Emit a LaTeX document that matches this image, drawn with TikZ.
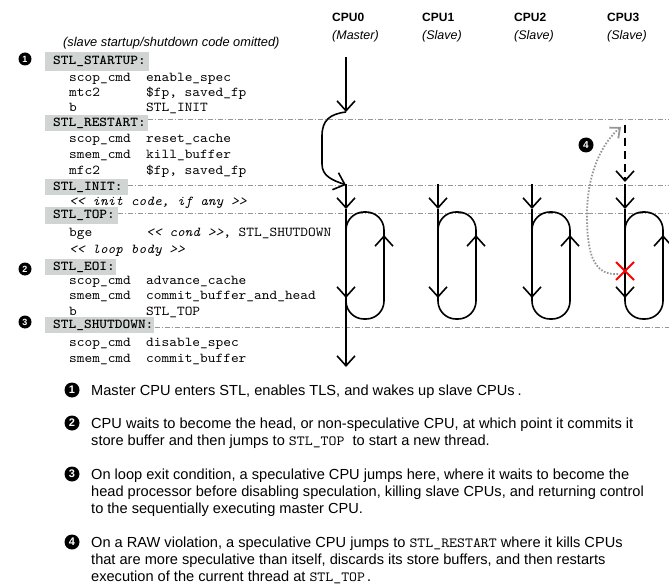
\documentclass[tikz,border=0pt]{standalone}
\usepackage{fontspec}
\setmainfont{Liberation Sans}
\newfontfamily\codefont{lmmono10}[Extension=.otf, UprightFont=*-regular, ItalicFont=*-italic, BoldFont=lmmonolt10-bold, BoldItalicFont=lmmonolt10-boldoblique, FakeStretch=1.08]
\usetikzlibrary{arrows.meta}
\definecolor{boxgray}{RGB}{208,213,211}
\definecolor{sepgray}{RGB}{150,150,150}
\definecolor{dotgray}{RGB}{150,150,150}
\newcommand\cmdtxt[1]{{\codefont\fontsize{14}{15}\selectfont #1}}
\begin{document}
\begin{tikzpicture}[x=1pt,y=-1pt,
  cpuh/.style={anchor=base west, inner sep=0, font=\bfseries\fontsize{12}{14}\selectfont},
  cpur/.style={anchor=base west, inner sep=0, font=\itshape\fontsize{12.5}{14}\selectfont},
  note/.style={anchor=base west, inner sep=0, font=\itshape\fontsize{12.8}{14}\selectfont},
  lbl/.style={anchor=west, fill=boxgray, inner sep=0, minimum height=16pt, text height=8.5pt, text depth=2pt, font=\codefont\bfseries\fontsize{13.6}{15}\selectfont},
  code/.style={anchor=mid west, inner sep=0, font=\codefont\fontsize{13.6}{15}\selectfont},
  body/.style={anchor=base west, inner sep=0, font=\fontsize{14.6}{17}\selectfont},
  numc/.style={circle, fill=black, text=white, inner sep=0, minimum size=13pt, font=\bfseries\fontsize{9}{9}\selectfont},
  bnum/.style={numc, minimum size=15pt, font=\bfseries\fontsize{11}{11}\selectfont},
  sepline/.style={draw=sepgray, line width=0.8pt, dash pattern=on 5pt off 2pt on 1pt off 2pt},
  flow/.style={line width=1.6pt, line cap=butt},
  tip/.style={-{Straight Barb[length=10pt,width=18pt]}},
  graytip/.style={-{Straight Barb[length=8pt,width=14pt]}},
]
\useasboundingbox (0,0) rectangle (669,588);

% CPU headers
\node[cpuh] (h0) at (332,21.3) {CPU0};
\node[cpur] (r0) at (332,39.3) {(Master)};
\node[cpuh] (h1) at (422,21.3) {CPU1};
\node[cpur] (r1) at (422,39.3) {(Slave)};
\node[cpuh] (h2) at (514,21.3) {CPU2};
\node[cpur] (r2) at (514,39.3) {(Slave)};
\node[cpuh] (h3) at (607,21.3) {CPU3};
\node[cpur] (r3) at (607,39.3) {(Slave)};

\node[note] (omit) at (63,46.3) {(slave startup/shutdown code omitted)};

% labels
\node[lbl, minimum height=19pt] (Lstart) at (45,61.5) {\kern8pt STL\_STARTUP:\kern3pt};
\node[lbl] (Lrest) at (45,123.5) {\kern8pt STL\_RESTART:\kern2pt};
\node[lbl] (Linit) at (45,187.5) {\kern8pt STL\_INIT:\kern5pt};
\node[lbl] (Ltop) at (45,215.5) {\kern8pt STL\_TOP:\kern3pt};
\node[lbl] (Leoi) at (45,267) {\kern8pt STL\_EOI:\kern1pt};
\node[lbl] (Lshut) at (45,325) {\kern8pt STL\_SHUTDOWN:\kern1pt};

% separator lines
\coordinate (sR1) at (669,119);
\coordinate (sR2) at (669,185);
\coordinate (sR3) at (669,213);
\coordinate (sR4) at (669,327);
\draw[sepline] (Lrest.east |- sR1) -- (sR1);
\draw[sepline] (Linit.east |- sR2) -- (sR2);
\draw[sepline] (Ltop.east |- sR3) -- (sR3);
\draw[sepline] (Lshut.east |- sR4) -- (sR4);

% code
\node[code] (c1a) at (69,79) {scop\_cmd};  \node[code] (c1b) at (146,79) {enable\_spec};
\node[code] (c2a) at (69,94) {mtc2};       \node[code] (c2b) at (146,94) {\$fp, saved\_fp};
\node[code] (c3a) at (69,109) {b};         \node[code] (c3b) at (146,109) {STL\_INIT};
\node[code] (c4a) at (69,140) {scop\_cmd}; \node[code] (c4b) at (146,140) {reset\_cache};
\node[code] (c5a) at (69,156) {smem\_cmd}; \node[code] (c5b) at (146,156) {kill\_buffer};
\node[code] (c6a) at (69,172) {mfc2};      \node[code] (c6b) at (146,172) {\$fp, saved\_fp};
\node[code] (c7a) at (69,203) {\itshape <{}< init code, if any >{}>};
\node[code] (c8a) at (69,234) {bge};       \node[code] (c8b) at (146,234) {{\itshape <{}< cond >{}>}, STL\_SHUTDOWN};
\node[code] (c9a) at (69,251) {\itshape <{}< loop body >{}>};
\node[code] (c10a) at (69,282) {scop\_cmd}; \node[code] (c10b) at (146,282) {advance\_cache};
\node[code] (c11a) at (69,297) {smem\_cmd}; \node[code] (c11b) at (146,297) {commit\_buffer\_and\_head};
\node[code] (c12a) at (69,313) {b};         \node[code] (c12b) at (146,313) {STL\_TOP};
\node[code] (c13a) at (69,344) {scop\_cmd}; \node[code] (c13b) at (146,344) {disable\_spec};
\node[code] (c14a) at (69,360) {smem\_cmd}; \node[code] (c14b) at (146,360) {commit\_buffer};

% numbered circles in code
\node[numc] (k1) at (25,59) {1};
\node[numc] (k2) at (25,269) {2};
\node[numc] (k3) at (25,322) {3};

% CPU0 flow
\coordinate (p0top) at (346,57);
\coordinate (p0a) at (346,112);
\coordinate (p0b) at (346,185);
\coordinate (p0end) at (346,367);
\draw[flow, tip] (p0top) -- (p0a);
\draw[flow, tip] (p0a) .. controls (330,114) and (322,120) .. (322,136) -- (322,164) .. controls (322,176) and (332,180) .. (p0b);

% loops
\foreach \x/\n in {346/0,438/1,532/2,625/3} {
  \coordinate (s\n) at (\x,184);
  \coordinate (a\n) at (\x,209);
  \coordinate (m\n) at (\x,298);
  \draw[flow, tip] (s\n) -- (a\n);
  \draw[flow, tip] (a\n) -- (m\n);
  \draw[flow, rounded corners=18pt, tip] (\x,296) -- (\x,319) -- (\x+38,319) -- (\x+38,235);
  \draw[flow, rounded corners=18pt] (\x+38,236) -- (\x+38,212) -- (\x,212) -- (\x,240);
}
\draw[flow, tip] (m0) -- (p0end);

% CPU3 restart dashed
\coordinate (d3top) at (625,125);
\coordinate (d3tip) at (625,182);
\draw[flow, tip, dash pattern=on 8pt off 5pt] (d3top) -- (d3tip);

% red X
\coordinate (xc) at (625,271);
\draw[red, line width=2pt] ([shift={(-9,-9)}]xc) -- ([shift={(9,9)}]xc) ([shift={(-9,9)}]xc) -- ([shift={(9,-9)}]xc);

% gray dotted arrow
\coordinate (g0) at (618,274);
\coordinate (g1) at (621,127);
\draw[dotgray, line width=1.8pt, dash pattern=on 1.6pt off 1.6pt, graytip] (g0) .. controls (592,276) and (587,250) .. (587,215) .. controls (587,172) and (603,142) .. (g1);
\node[numc, minimum size=15pt, font=\bfseries\fontsize{10}{10}\selectfont] (k4) at (586,145) {4};

% bottom explanations
\node[bnum] (b1) at (72,390) {1};
\node[body] (t1) at (91,395.2) {Master CPU enters STL, enables TLS, and wakes up slave CPUs\kern3pt.};
\node[bnum] (b2) at (72,423) {2};
\node[body] (t2a) at (91,428.2) {CPU waits to become the head, or non-speculative CPU, at which point it commits it};
\node[body] (t2b) at (91,445.2) {store buffer and then jumps to \cmdtxt{STL\_TOP}\ \ to start a new thread.};
\node[bnum] (b3) at (72,474) {3};
\node[body] (t3a) at (91,479.2) {On loop exit condition, a speculative CPU jumps here, where it waits to become the};
\node[body] (t3b) at (91,496.2) {head processor before disabling speculation, killing slave CPUs, and returning control};
\node[body] (t3c) at (91,513.2) {to the sequentially executing master CPU.};
\node[bnum] (b4) at (72,542) {4};
\node[body] (t4a) at (91,547.2) {On a RAW violation, a speculative CPU jumps to \cmdtxt{STL\_RESTART} where it kills CPUs};
\node[body] (t4b) at (91,564.2) {that are more speculative than itself, discards its store buffers, and then restarts};
\node[body] (t4c) at (91,581.2) {execution of the current thread at \cmdtxt{STL\_TOP.}};
\end{tikzpicture}
\end{document}
